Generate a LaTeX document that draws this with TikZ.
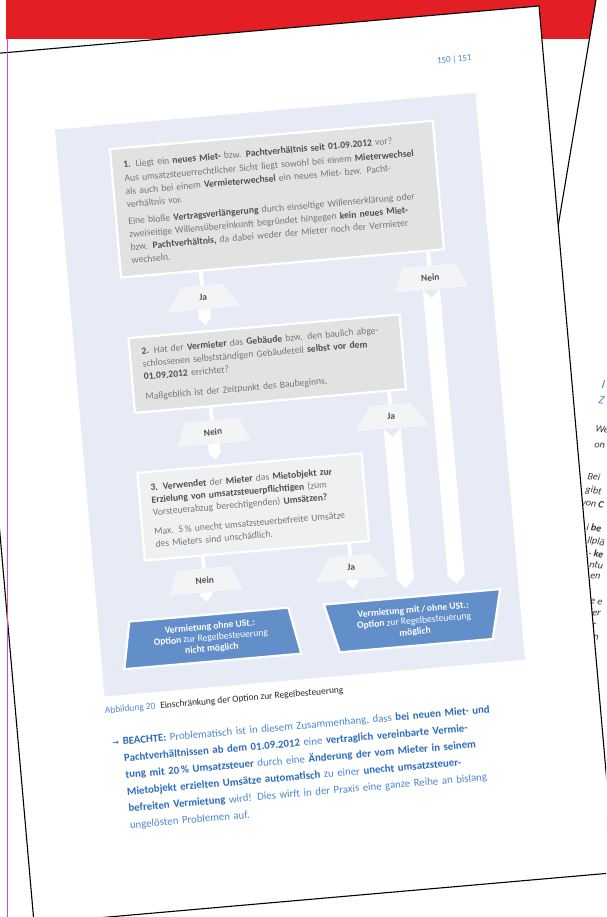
\documentclass[tikz,border=0pt]{standalone}
\usepackage{fontspec}
\setmainfont{Carlito}
\newfontfamily\arrowfont{DejaVu Sans}
\usetikzlibrary{arrows.meta,shapes.geometric,calc}

\definecolor{bandred}{HTML}{E31E25}
\definecolor{marginpink}{HTML}{E9489E}
\definecolor{panelblue}{HTML}{E6EBF6}
\definecolor{boxgray}{HTML}{E2E2E2}
\definecolor{boxlight}{HTML}{EFF0F2}
\definecolor{labelgray}{HTML}{F3F4F6}
\definecolor{resultblue}{HTML}{628FCA}
\definecolor{txtgray}{HTML}{767676}
\definecolor{txtdark}{HTML}{505050}
\definecolor{noteblue}{HTML}{4A88D0}
\definecolor{notedark}{HTML}{2B6CBD}

\newcommand\bq[1]{\textbf{\color{txtdark}#1}}
\newcommand\bn[1]{\textbf{\color{notedark}#1}}

\tikzset{%
  % Specifications for style of nodes:
        base/.style = {rectangle, draw=white, line width=2.2pt, inner xsep=12pt,
                       inner ysep=0pt, align=left, anchor=north west, text=txtgray,
                       font=\fontsize{9.6}{13}\selectfont},
    question/.style = {base, fill=boxgray},
   lastquest/.style = {base, fill=boxlight},
      answer/.style = {trapezium, trapezium angle=63, trapezium stretches,
                       minimum width=74pt, minimum height=24pt, inner sep=0pt,
                       fill=labelgray, text=txtdark,
                       font=\fontsize{9.4}{10}\selectfont\bfseries},
      result/.style = {trapezium, trapezium stretches, fill=resultblue, draw=white,
                       line width=2.2pt, inner sep=0pt, text=white, align=center,
                       font=\fontsize{9.6}{11}\selectfont},
        stem/.style = {white, line width=4pt},
     pointer/.style = {white, line width=12pt, -{Triangle[width=12pt,length=7pt]}},
       track/.style = {white, line width=17pt,
                       {Triangle Cap[reversed]}-{Triangle[width=17pt,length=9pt]}},
    backtext/.style = {rotate=-9.5, anchor=base west, inner sep=0pt, text=black!80,
                       font=\fontsize{10}{12}\selectfont\itshape},
}

\begin{document}
\begin{tikzpicture}[x=1pt, y=-1pt, every node/.append style={transform shape}]
  \useasboundingbox (0,0) rectangle (606,917);
  \clip (0,0) rectangle (606,917);
  \fill[white] (0,0) rectangle (606,917);
  \fill[bandred] (6,0) rectangle (606,39);

  % page lying behind, turned clockwise
  \filldraw[fill=white, draw=black, line width=1.1pt]
    (599.3,-20) -- (462,800) -- (720,843) -- (720,-20) -- cycle;
  \node (backHeadA) [backtext, text=noteblue, font=\fontsize{13}{14}\selectfont\itshape]
    at (601,388) {I};
  \node (backHeadB) [backtext, text=noteblue, font=\fontsize{12}{14}\selectfont\itshape]
    at (598,403) {Z};
  \foreach \x/\y/\t [count=\i] in {595/431/We, 594/447/on, 587/479/Bei, 585/492/gibt,
      581/505/{von \textbf{C}}, 586/530/{i \textbf{be}}, 587/543/llplä,
      588/556/{- \textbf{ke}}, 589/567/ntu, 590/578/en, 590/603/e e,
      592/615/er, 592/627/r, 593/639/n}
    \node (backLine\i) [backtext] at (\x,\y) {\t};

  % front page, turned anticlockwise
  \begin{scope}[shift={(539pt,-6pt)}, rotate=5]
    \filldraw[fill=white, draw=black, line width=1.1pt] (-583,0) rectangle (0,870);
    \node (pageNumber) [text=noteblue, font=\fontsize{9}{10}\selectfont] at (-89,46)
                       {150\,|\,151};
    \fill[panelblue] (-493,81) rectangle (-71,650);

    \node (questionOne)   [question, text width=300pt, minimum height=129pt] at (-441,104)
      {\bq{1.} Liegt ein \bq{neues Miet-} bzw. \bq{Pachtverhältnis seit 01.09.2012} vor?\\[1pt]
       Aus umsatzsteuerrechtlicher Sicht liegt sowohl bei einem \bq{Mieterwechsel}\\
       als auch bei einem \bq{Vermieterwechsel} ein neues Miet- bzw. Pacht-\\
       verhältnis vor.\\[4pt]
       Eine bloße \bq{Vertragsverlängerung} durch einseitige Willenserklärung oder\\
       zweiseitige Willensübereinkunft begründet hingegen \bq{kein neues Miet-}\\
       bzw. \bq{Pachtverhältnis,} da dabei weder der Mieter noch der Vermieter\\
       wechseln.};
    \node (questionTwo)   [question, text width=248pt, minimum height=75pt] at (-439,294)
      {\bq{2.} Hat der \bq{Vermieter} das \bq{Gebäude} bzw. den baulich abge-\\
       schlossenen selbstständigen Gebäudeteil \bq{selbst vor dem}\\
       \bq{01.09.2012} errichtet?\\[7pt]
       Maßgeblich ist der Zeitpunkt des Baubeginns.};
    \node (questionThree) [lastquest, text width=201pt, minimum height=88pt,
                           font=\fontsize{9.6}{12.5}\selectfont] at (-442,429)
      {\bq{3. Verwendet} der \bq{Mieter} das \bq{Mietobjekt zur}\\
       \bq{Erzielung von umsatzsteuerpflichtigen} (zum\\
       Vorsteuerabzug berechtigenden) \bq{Umsätzen?}\\[7pt]
       Max. 5\,\% unecht umsatzsteuerbefreite Umsätze\\
       des Mieters sind unschädlich.};

    \node (yesOne)   [answer] at (-360,261) {Ja};
    \node (noOne)    [answer] at (-132,261) {Nein};
    \node (noTwo)    [answer] at (-362,396) {Nein};
    \node (yesTwo)   [answer] at (-183,396) {Ja};
    \node (noThree)  [answer] at (-383,543) {Nein};
    \node (yesThree) [answer] at (-236,543) {Ja};

    \node (resultWithout) [result, trapezium angle=78, minimum width=178pt,
                           minimum height=47pt] at (-382,601)
      {\textbf{Vermietung ohne USt.:}\\\textbf{Option} zur Regelbesteuerung\\\textbf{nicht möglich}};
    \node (resultWith)    [result, trapezium angle=106, minimum width=177pt,
                           minimum height=49pt] at (-178,602)
      {\textbf{Vermietung mit\,/\,ohne USt.:}\\\textbf{Option} zur Regelbesteuerung\\\textbf{möglich}};

    % short stems from the questions to the answers
    \draw[stem] ($(questionOne.south west)!(yesOne.north)!(questionOne.south east)$) -- (yesOne.north);
    \draw[stem] ($(questionOne.south west)!(noOne.north)!(questionOne.south east)$) -- (noOne.north);
    \draw[stem] ($(questionTwo.south west)!(noTwo.north)!(questionTwo.south east)$) -- (noTwo.north);
    \draw[stem] ($(questionTwo.south west)!(yesTwo.north)!(questionTwo.south east)$) -- (yesTwo.north);
    \draw[stem] ($(questionThree.south west)!(noThree.north)!(questionThree.south east)$) -- (noThree.north);
    \draw[stem] ($(questionThree.south west)!(yesThree.north)!(questionThree.south east)$) -- (yesThree.north);

    % arrows from the answers
    \draw[pointer, shorten >=5pt] (yesOne.south) --
      ($(questionTwo.north west)!(yesOne.south)!(questionTwo.north east)$);
    \draw[pointer, shorten >=5pt] (noTwo.south) --
      ($(questionThree.north west)!(noTwo.south)!(questionThree.north east)$);
    \draw[pointer, shorten >=12pt] (noThree.south) --
      ($(resultWithout.top left corner)!(noThree.south)!(resultWithout.top right corner)$);
    \draw[pointer, shorten >=12pt] (yesThree.south) --
      ($(resultWith.top left corner)!(yesThree.south)!(resultWith.top right corner)$);
    \draw[track, shorten >=8pt] (noOne.south) --
      ($(resultWith.top left corner)!(noOne.south)!(resultWith.top right corner)$);
    \draw[track, shorten >=8pt] (yesTwo.south) --
      ($(resultWith.top left corner)!(yesTwo.south)!(resultWith.top right corner)$);

    \node (figCaption) [anchor=base west, inner sep=0pt, text=black!85,
                        font=\fontsize{9.4}{11}\selectfont] at (-494,667)
      {\textcolor{noteblue}{Abbildung 20}\hspace{5pt}Einschränkung der Option zur Regelbesteuerung};

    \node (noteText) [anchor=north west, inner sep=0pt, text width=407pt, align=left,
                      text=noteblue, font=\fontsize{10.8}{16.8}\selectfont] at (-479,692)
      {\llap{\arrowfont\bfseries\fontsize{7.5}{8}\selectfont\color{notedark}→\hspace{4pt}}%
       \makebox[407pt][s]{\bn{BEACHTE:} Problematisch ist in diesem Zusammenhang, dass \bn{bei neuen Miet- und}}\\
       \makebox[407pt][s]{\bn{Pachtverhältnissen ab dem 01.09.2012} eine \bn{vertraglich vereinbarte Vermie-}}\\
       \makebox[407pt][s]{\bn{tung mit 20\,\% Umsatzsteuer} durch eine \bn{Änderung der vom Mieter in seinem}}\\
       \makebox[407pt][s]{\bn{Mietobjekt erzielten Umsätze automatisch} zu einer \bn{unecht umsatzsteuer-}}\\
       \makebox[407pt][s]{\bn{befreiten Vermietung} wird! Dies wirft in der Praxis eine ganze Reihe an bislang}\\
       ungelösten Problemen auf.};
  \end{scope}

  \draw[marginpink, line width=1pt] (7,39) -- (7,917);
\end{tikzpicture}
\end{document}
